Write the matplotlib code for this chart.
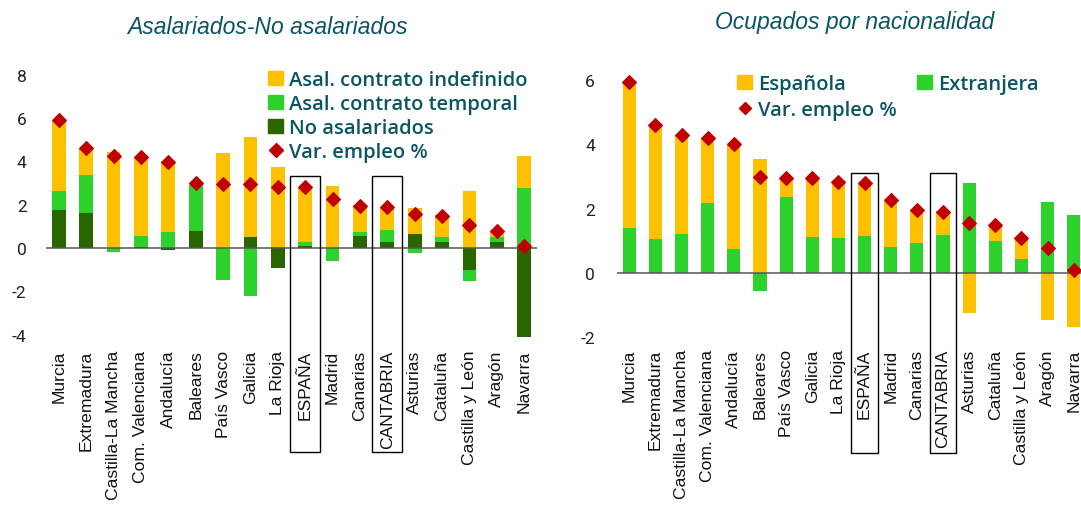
import matplotlib
matplotlib.use("Agg")
import matplotlib.pyplot as plt
from matplotlib.patches import Rectangle
from matplotlib.lines import Line2D
import numpy as np

# datos
regiones_izq = ["Murcia", "Extremadura", "Castilla-La Mancha", "Com. Valenciana", "Andalucía",
                "Baleares", "País Vasco", "Galicia", "La Rioja", "ESPAÑA", "Madrid", "Canarias",
                "CANTABRIA", "Asturias", "Cataluña", "Castilla y León", "Aragón", "Navarra"]
no_asal = [1.77, 1.62, 0.0, 0.03, -0.08, 0.80, 0.0, 0.52, -0.91, 0.10, 0.0, 0.57,
           0.26, 0.65, 0.26, -1.00, 0.29, -4.09]
temporal = [0.85, 1.75, -0.17, 0.54, 0.75, 2.10, -1.46, -2.20, 0.05, 0.16, -0.58, 0.15,
            0.57, -0.25, 0.26, -0.54, 0.23, 2.75]
indefinido = [3.29, 1.23, 4.45, 3.61, 3.28, 0.10, 4.40, 4.58, 3.67, 2.54, 2.85, 1.28,
              1.05, 1.18, 1.00, 2.65, 0.25, 1.51]
var_izq = [5.90, 4.60, 4.26, 4.18, 3.95, 3.00, 2.94, 2.94, 2.80, 2.80, 2.26, 1.95,
           1.91, 1.57, 1.49, 1.08, 0.77, 0.08]

regiones_der = ["Murcia", "Extremadura", "Castilla-La Mancha", "Com. Valenciana", "Andalucía",
                "Baleares", "País Vasco", "Galicia", "La Rioja", "ESPAÑA", "Madrid", "Canarias",
                "CANTABRIA", "Asturias", "Cataluña", "Castilla y León", "Aragón", "Navarra"]
extranjera = [1.41, 1.06, 1.21, 2.18, 0.75, -0.56, 2.35, 1.11, 1.09, 1.15, 0.82, 0.92,
              1.19, 2.80, 1.00, 0.44, 2.22, 1.80]
espanola = [4.54, 3.55, 3.08, 2.03, 3.25, 3.54, 0.61, 1.83, 1.81, 1.65, 1.48, 1.05,
            0.75, -1.25, 0.50, 0.65, -1.45, -1.67]
var_der = [5.95, 4.61, 4.29, 4.21, 4.00, 2.99, 2.96, 2.94, 2.82, 2.80, 2.28, 1.96,
           1.91, 1.55, 1.50, 1.09, 0.78, 0.10]

destacadas = ["ESPAÑA", "CANTABRIA"]

AMARILLO = "#FFC000"
VERDE = "#2DD12B"
VERDE_OSC = "#296600"
ROJO = "#C00000"
TEAL = "#0B5563"

plt.rcParams["font.family"] = ["Liberation Sans", "DejaVu Sans"]

fig = plt.figure(figsize=(10.81, 5.10), dpi=100)


def apilar(ax, x, series, colores, w):
    pos = np.zeros(len(x))
    neg = np.zeros(len(x))
    for vals, c in zip(series, colores):
        v = np.array(vals)
        base = np.where(v >= 0, pos, neg)
        ax.bar(x, v, w, bottom=base, color=c, zorder=2)
        pos = pos + np.where(v >= 0, v, 0)
        neg = neg + np.where(v < 0, v, 0)


def estilo(ax, regiones, ylim, yticks, ypad):
    ax.set_xlim(-0.47, len(regiones) - 0.53)
    ax.set_ylim(*ylim)
    ax.set_yticks(yticks)
    ax.set_yticklabels([str(t) for t in yticks], fontfamily="Roboto", fontsize=12.5, color="#222222")
    ax.set_xticks(np.arange(len(regiones)))
    ax.set_xticklabels(regiones, rotation=90, fontsize=12.6, color="#111111")
    ax.tick_params(axis="both", length=0)
    ax.tick_params(axis="y", pad=ypad)
    ax.tick_params(axis="x", pad=6)
    for s in ax.spines.values():
        s.set_visible(False)
    ax.axhline(0, color="#555555", lw=1.1, zorder=3)


def cajas(ax, regiones, top, bottom, w):
    for nombre in destacadas:
        i = regiones.index(nombre)
        ax.add_patch(Rectangle((i - w / 2, bottom), w, top - bottom, fill=False,
                               edgecolor="black", lw=1.0, clip_on=False, zorder=5))


leg_font = {"family": "Open Sans", "weight": "semibold", "size": 14.5}

# ---- izquierda
ax1 = fig.add_axes([46 / 1081, 0.329, 491 / 1081, 0.5312])
x1 = np.arange(len(regiones_izq))
apilar(ax1, x1, [no_asal, temporal, indefinido], [VERDE_OSC, VERDE, AMARILLO], 0.5)
ax1.scatter(x1, var_izq, marker="D", s=48, color=ROJO, zorder=4, clip_on=False)
estilo(ax1, regiones_izq, (-4.3, 8.2), [-4, -2, 0, 2, 4, 6, 8], 14)
cajas(ax1, regiones_izq, 3.32, -9.41, 1.1)
fig.text(267 / 1081, 1 - 27 / 510, "Asalariados-No asalariados", fontstyle="italic",
         fontsize=16.5, color=TEAL, ha="center", va="center")

h1 = [Rectangle((0, 0), 1, 1, color=AMARILLO), Rectangle((0, 0), 1, 1, color=VERDE),
      Rectangle((0, 0), 1, 1, color=VERDE_OSC),
      Line2D([], [], marker="D", ls="none", color=ROJO, markersize=7.5)]
l1 = ["Asal. contrato indefinido", "Asal. contrato temporal", "No asalariados", "Var. empleo %"]
fig.legend(h1, l1, loc="upper left", bbox_to_anchor=(268 / 1081, 1 - 71 / 510), frameon=False,
           prop=leg_font, labelcolor=TEAL,
           handlelength=0.75, handleheight=0.75, handletextpad=0.3, labelspacing=0.2,
           borderpad=0, borderaxespad=0)

# ---- derecha
ax2 = fig.add_axes([617 / 1081, 0.330, 469 / 1081, 0.524])
x2 = np.arange(len(regiones_der))
apilar(ax2, x2, [extranjera, espanola], [VERDE, AMARILLO], 0.5)
ax2.scatter(x2, var_der, marker="D", s=48, color=ROJO, zorder=4, clip_on=False)
estilo(ax2, regiones_der, (-2.1, 6.2), [-2, 0, 2, 4, 6], 16)
cajas(ax2, regiones_der, 3.1, -5.59, 1.02)
fig.text(855 / 1081, 1 - 22 / 510, "Ocupados por nacionalidad", fontstyle="italic",
         fontsize=16.5, color=TEAL, ha="center", va="center")

h2 = [Rectangle((0, 0), 1, 1, color=AMARILLO),
      Line2D([], [], marker="D", ls="none", color=ROJO, markersize=6.5),
      Rectangle((0, 0), 1, 1, color=VERDE)]
l2 = ["Española", "Var. empleo %", "Extranjera"]
fig.legend(h2, l2, loc="upper left", bbox_to_anchor=(737 / 1081, 1 - 75 / 510), frameon=False,
           ncol=2, prop=leg_font, labelcolor=TEAL,
           handlelength=0.75, handleheight=0.75, handletextpad=0.3, labelspacing=0.32,
           columnspacing=1.0, borderpad=0, borderaxespad=0)

fig.savefig("out.png", dpi=100)
